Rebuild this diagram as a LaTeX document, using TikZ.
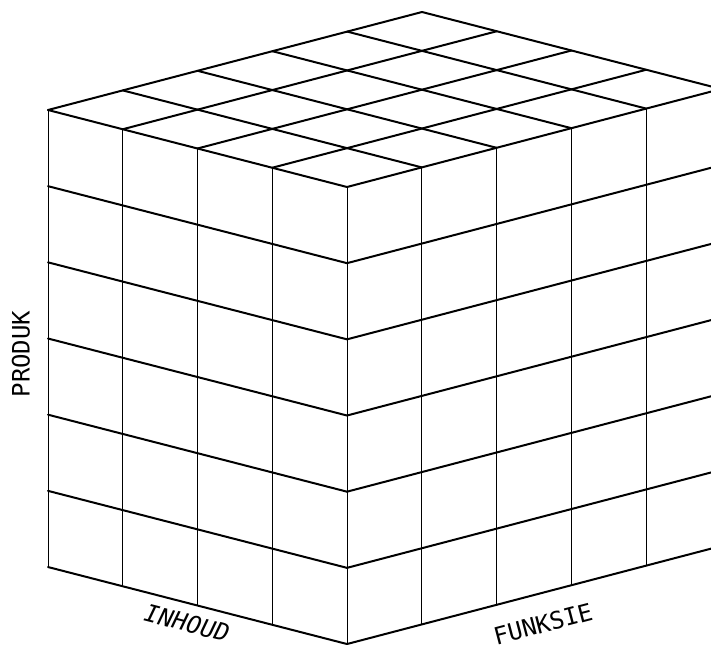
\documentclass[tikz,border=0pt]{standalone}
\usepackage{fontspec}
\setmonofont{DejaVu Sans Mono}
\begin{document}
\begin{tikzpicture}[x=1pt,y=-1pt,
  thickline/.style={line width=2pt,line cap=round,line join=round},
  thinline/.style={line width=0.9pt,line cap=round},
  lbl/.style={font=\ttfamily\fontsize{24}{24}\selectfont,inner sep=0pt}]
\useasboundingbox (0,0) rectangle (711,650);
\clip (0,0) rectangle (711,650);
\begin{scope}[shift={(48,110)},
  x={(74.75pt,-19.25pt)}, y={(74.8pt,19.6pt)}, z={(0pt,-76.17pt)}]
  % front-left face: verticals
  \foreach \i in {0,...,4} \draw[thinline] (\i,0,0) -- (\i,0,6);
  % right face: verticals
  \foreach \j in {1,...,5} \draw[thinline] (4,\j,0) -- (4,\j,6);
  % front-left face: sloping rows
  \foreach \k in {1,...,6} \draw[thickline] (0,0,\k) -- (4,0,\k);
  % right face: sloping rows
  \foreach \k in {1,...,6} \draw[thickline] (4,0,\k) -- (4,5,\k);
  % top face
  \foreach \i in {0,...,4} \draw[thickline] (\i,0,0) -- (\i,5,0);
  \foreach \j in {0,...,5} \draw[thickline] (0,\j,0) -- (4,\j,0);
\end{scope}
\node[lbl,rotate=90] (produk) at (21,354) {PRODUK};
\node[lbl,rotate=-14.5,font=\ttfamily\itshape\fontsize{24}{24}\selectfont] (inhoud) at (187,623) {INHOUD};
\node[lbl,rotate=14.7] (funksie) at (543,624) {FUNKSIE};
\end{tikzpicture}
\end{document}
